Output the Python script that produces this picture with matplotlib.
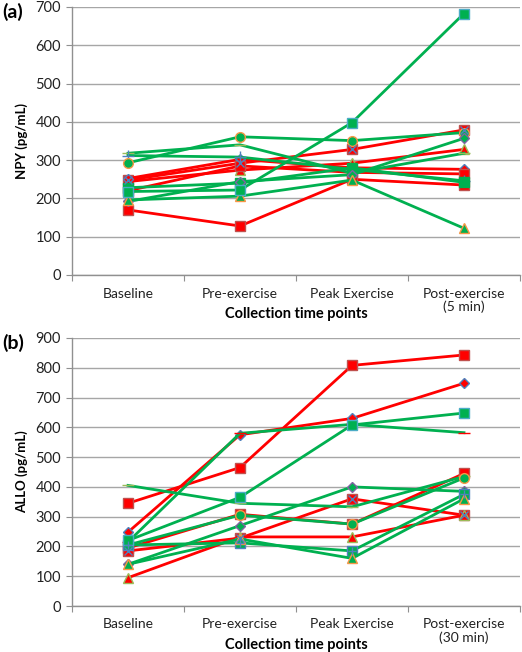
import matplotlib
matplotlib.use("Agg")
import matplotlib.pyplot as plt
from matplotlib.ticker import MultipleLocator, FixedLocator

plt.rcParams['font.family'] = ['Lato', 'DejaVu Sans']

# ---------------- data ----------------
categories_a = ["Baseline", "Pre-exercise", "Peak Exercise", "Post-exercise\n(5 min)"]
categories_b = ["Baseline", "Pre-exercise", "Peak Exercise", "Post-exercise\n(30 min)"]

# Panel (a) NPY (pg/mL)
npy_red_square = [170, 128, 250, 235]
npy_red_xsquare = [248, 292, 328, 379]
npy_red_triangle = [244, 274, 292, 328]
npy_red_diamond = [252, 302, 280, 276]
npy_red_square2 = [220, 285, 268, 264]
npy_green_square = [218, 222, 398, 683]
npy_green_circle = [293, 361, 351, 372]
npy_green_dash = [318, 340, 266, 318]
npy_green_plus = [312, 308, 276, 246]
npy_green_diamond = [192, 244, 262, 357]
npy_green_triangle = [196, 206, 248, 122]
npy_green_square2 = [228, 240, 280, 242]

# Panel (b) ALLO (pg/mL)
allo_red_square = [345, 465, 808, 843]
allo_red_diamond = [248, 575, 630, 748]
allo_red_square2 = [195, 308, 275, 445]
allo_red_xsquare = [185, 228, 360, 305]
allo_red_triangle = [95, 232, 232, 305]
allo_green_dash = [215, 580, 610, 582]
allo_green_square = [220, 365, 608, 648]
allo_green_dash2 = [405, 345, 333, 435]
allo_green_circle = [205, 305, 275, 430]
allo_green_diamond = [140, 270, 400, 385]
allo_green_triangle = [140, 225, 160, 360]
allo_green_square2 = [205, 212, 185, 375]

RED = "#FF0000"
GREEN = "#00B050"

# (values, line colour, marker, face, edge, overlay marker)
series_a = [
    (npy_red_square, RED, "s", RED, "#C0504D", None),
    (npy_red_xsquare, RED, "s", RED, "#C0504D", "x"),
    (npy_red_triangle, RED, "^", RED, "#9BBB59", None),
    (npy_red_diamond, RED, "D", RED, "#4F81BD", None),
    (npy_red_square2, RED, "s", RED, "#C0504D", None),
    (npy_green_dash, GREEN, "_", GREEN, "#9BBB59", None),
    (npy_green_plus, GREEN, "+", GREEN, "#4F81BD", None),
    (npy_green_circle, GREEN, "o", GREEN, "#F79646", None),
    (npy_green_square2, GREEN, "s", GREEN, "#00B050", None),
    (npy_green_diamond, GREEN, "D", GREEN, "#8064A2", None),
    (npy_green_triangle, GREEN, "^", GREEN, "#F79646", None),
    (npy_green_square, GREEN, "s", GREEN, "#4BACC6", None),
]

series_b = [
    (allo_red_square, RED, "s", RED, "#C0504D", None),
    (allo_red_diamond, RED, "D", RED, "#4F81BD", None),
    (allo_red_square2, RED, "s", RED, "#C0504D", None),
    (allo_red_xsquare, RED, "s", RED, "#C0504D", "x"),
    (allo_red_triangle, RED, "^", RED, "#9BBB59", None),
    (allo_green_dash, GREEN, "_", RED, RED, None),
    (allo_green_dash2, GREEN, "_", "#9BBB59", "#9BBB59", None),
    (allo_green_circle, GREEN, "o", GREEN, "#F79646", None),
    (allo_green_diamond, GREEN, "D", GREEN, "#8064A2", None),
    (allo_green_square2, GREEN, "s", GREEN, "#4F81BD", "+"),
    (allo_green_triangle, GREEN, "^", GREEN, "#F79646", None),
    (allo_green_square, GREEN, "s", GREEN, "#4BACC6", None),
]

fig = plt.figure(figsize=(5.22, 6.52), dpi=100)
ax_a = fig.add_axes([72 / 522, 1 - 275 / 652, 448 / 522, 268 / 652])
ax_b = fig.add_axes([72 / 522, 1 - 606 / 652, 448 / 522, 268 / 652])


def draw(ax, series, cats, ymax, ylabel):
    xs = [i + 0.5 for i in range(len(cats))]
    for vals, lc, mk, fc, ec, ov in series:
        ms = 7 if mk in ("s", "o", "^") else 6
        if mk == "D":
            ms = 5
        if mk in ("_", "+"):
            ms = 8
        ax.plot(xs, vals, color=lc, lw=2.0, marker=mk, markersize=ms,
                markerfacecolor=fc, markeredgecolor=ec, markeredgewidth=1.0,
                zorder=3)
        if ov:
            ax.plot(xs, vals, ls="none", marker=ov, markersize=6,
                    markeredgecolor="#4F81BD", markeredgewidth=1.0, zorder=4)
    ax.set_xlim(0, len(cats))
    ax.set_ylim(0, ymax)
    ax.yaxis.set_major_locator(MultipleLocator(100))
    ax.grid(axis="y", color="#A6A6A6", lw=1.0)
    ax.set_axisbelow(True)
    for s in ("top", "right"):
        ax.spines[s].set_visible(False)
    for s in ("left", "bottom"):
        ax.spines[s].set_color("#909090")
        ax.spines[s].set_linewidth(1.0)
    ax.xaxis.set_major_locator(FixedLocator(range(len(cats) + 1)))
    ax.xaxis.set_minor_locator(FixedLocator(xs))
    ax.set_xticklabels([], minor=False)
    ax.set_xticklabels(cats, minor=True, fontsize=10, color="#222222",
                       linespacing=1.1, va="top")
    ax.tick_params(axis="x", which="major", length=4, color="#909090")
    ax.tick_params(axis="x", which="minor", length=0, pad=9)
    ax.tick_params(axis="y", length=4, color="#909090", labelsize=10.5,
                   labelcolor="#222222", pad=4)
    ax.set_xlabel("Collection time points", fontsize=10.5, fontweight="bold",
                  va="center")
    ax.xaxis.set_label_coords(0.5, -39 / 268)
    ax.set_ylabel(ylabel, fontsize=9.5, fontweight="bold", labelpad=5)


draw(ax_a, series_a, categories_a, 700, "NPY (pg/mL)")
draw(ax_b, series_b, categories_b, 900, "ALLO (pg/mL)")

fig.text(2 / 522, 1 - 12 / 652, "(a)", fontsize=14, fontweight="bold", va="center")
fig.text(2 / 522, 1 - 343 / 652, "(b)", fontsize=14, fontweight="bold", va="center")

fig.savefig("out.png", dpi=100)
